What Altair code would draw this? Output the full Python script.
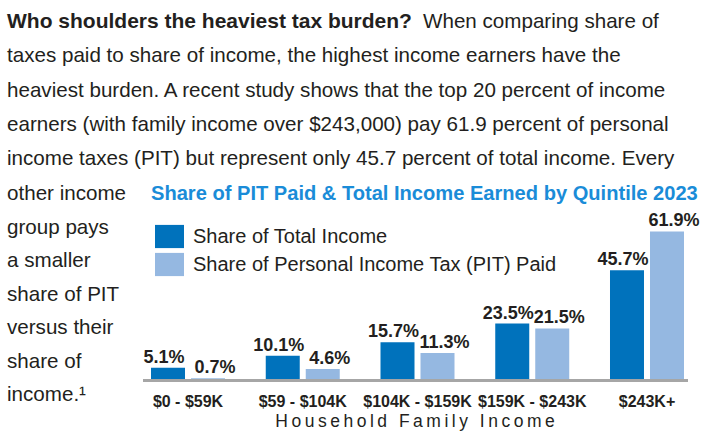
import altair as alt
import pandas as pd

# ---------------- data ----------------
categories = ["$0 - $59K", "$59 - $104K", "$104K - $159K", "$159K - $243K", "$243K+"]
income_share = [5.1, 10.1, 15.7, 23.5, 45.7]
pit_share = [0.7, 4.6, 11.3, 21.5, 61.9]
series_names = ["Share of Total Income", "Share of Personal Income Tax (PIT) Paid"]
series_colors = ["#0072bc", "#95b8e1"]

intro_bold = "Who shoulders the heaviest tax burden?"
intro_lines = [
    "When comparing share of",
    "taxes paid to share of income, the highest income earners have the",
    "heaviest burden. A recent study shows that the top 20 percent of income",
    "earners (with family income over $243,000) pay 61.9 percent of personal",
    "income taxes (PIT) but represent only 45.7 percent of total income. Every",
]
side_lines = ["other income", "group pays", "a smaller", "share of PIT",
              "versus their", "share of", "income.\u00b9"]
chart_title = "Share of PIT Paid & Total Income Earned by Quintile 2023"
x_title = "Household Family Income"

# ---------------- styles ----------------
FONT = "Liberation Sans"
TEXT = "#231f20"
TITLE_BLUE = "#1a8cd8"
BAR_W = 34
HALF = 20  # offset of each bar centre from the group centre
LABEL_DX = (-24, 27)  # value-label nudges for the two series

series_data = [income_share, pit_share]
series_dfs = []
for s, vals in zip(series_names, series_data):
    series_dfs.append(pd.DataFrame({
        "category": categories,
        "series": [s] * len(categories),
        "value": vals,
        "label": [f"{v:.1f}%" for v in vals],
    }))
cat_df = pd.DataFrame({"category": categories})

x_enc = alt.X("category:N", sort=categories, axis=None,
              scale=alt.Scale(range=[151, 684], paddingInner=0.355, paddingOuter=0))
y_enc = alt.Y("value:Q", axis=None,
              scale=alt.Scale(domain=[0, 100], range=[380, 140], nice=False, zero=True))
color_enc = alt.Color(
    "series:N",
    scale=alt.Scale(domain=series_names, range=series_colors),
    legend=alt.Legend(orient="none", legendX=155, legendY=222, title=None,
                      symbolType="M-1,-0.8H1V0.8H-1Z", symbolSize=841,
                      symbolStrokeWidth=0, symbolOpacity=1,
                      labelFontSize=20, labelFont=FONT, labelColor=TEXT,
                      labelOffset=9, rowPadding=1, padding=0, labelLimit=600),
)

layers = []
for sdf, off in zip(series_dfs, (-HALF, HALF)):
    layers.append(alt.Chart(sdf).mark_bar(width=BAR_W, xOffset=off).encode(
        x=x_enc, y=y_enc, color=color_enc))

layers.append(alt.Chart(cat_df).mark_rule(color="#a6a6a6", strokeWidth=2.5).encode(
    x=alt.value(143), x2=alt.value(688), y=alt.value(380.5)))

for sdf, off in zip(series_dfs, LABEL_DX):
    layers.append(alt.Chart(sdf).mark_text(
        baseline="alphabetic", dx=off, dy=-5, fontSize=18, fontWeight="bold",
        font=FONT, color=TEXT
    ).encode(x=x_enc, y=y_enc, text="label:N"))

layers.append(alt.Chart(cat_df).mark_text(
    baseline="alphabetic", fontSize=16, fontWeight="bold", font=FONT, color=TEXT
).encode(x=x_enc, y=alt.value(407), text="category:N"))


def free_text(txt, x, y, size, weight="normal", color=TEXT, align="left"):
    return alt.Chart(pd.DataFrame({"t": [txt]})).mark_text(
        align=align, baseline="alphabetic", fontSize=size, fontWeight=weight,
        font=FONT, color=color
    ).encode(x=alt.value(x), y=alt.value(y), text="t:N")


layers.append(free_text(intro_bold, 7, 28, 21, weight="bold"))
for k, line in enumerate(intro_lines):
    x = 423 if k == 0 else 7
    layers.append(free_text(line, x, 28 + 34.3 * k, 20.6))
for k, line in enumerate(side_lines):
    layers.append(free_text(line, 7, 200 + 33.5 * k, 20.6))

layers.append(free_text(chart_title, 151, 200, 20.1, weight="bold", color=TITLE_BLUE))
spaced_title = "\u2009".join(list(x_title))
layers.append(free_text(spaced_title, 415, 426.5, 17.5, align="center"))

chart = alt.layer(*layers).properties(
    width=703, height=431, padding=0, background="white",
    autosize=alt.AutoSizeParams(type="none")
).configure_view(stroke=None)

chart.save("out.html", embed_options={"renderer": "svg", "actions": False})
